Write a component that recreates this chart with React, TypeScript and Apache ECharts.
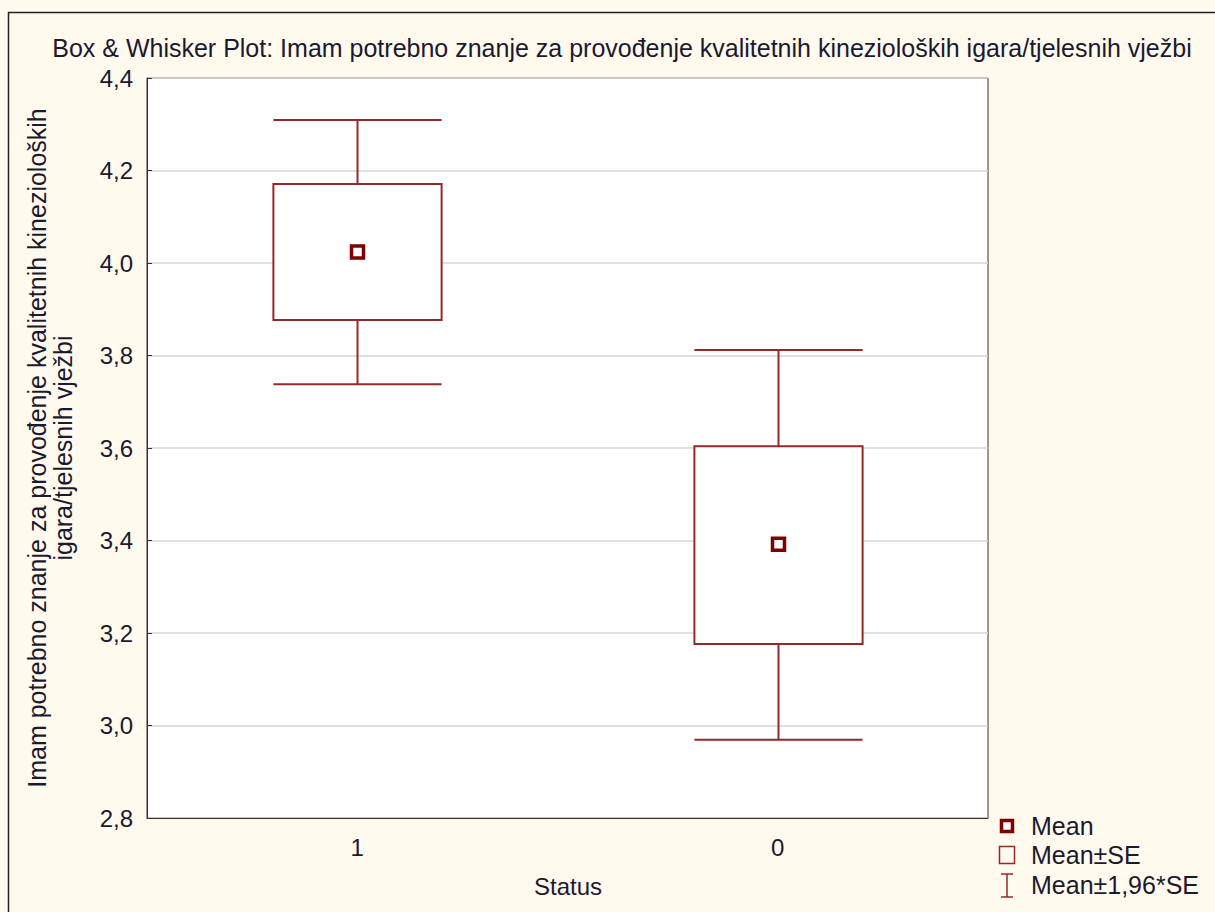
import React, { useEffect, useRef } from "react";
import * as echarts from "echarts";

const categories = ["1", "0"];
const means = [4.024, 3.392];
const seLow = [3.877, 3.176];
const seHigh = [4.171, 3.604];
const ciLow = [3.738, 2.969];
const ciHigh = [4.309, 3.812];

const titleText =
  "Box & Whisker Plot: Imam potrebno znanje za provođenje kvalitetnih kinezioloških igara/tjelesnih vježbi";
const yLabel =
  "Imam potrebno znanje za provođenje kvalitetnih kinezioloških\nigara/tjelesnih vježbi";
const xLabel = "Status";
const legendItems = ["Mean", "Mean±SE", "Mean±1,96*SE"];

const BOX = "#932a2a";
const MEAN = "#7f0000";
const FONT = "'Liberation Sans', Arial, sans-serif";
const TXT = "#1a1a2e";
const FS = 24;

export default function App() {
  const ref = useRef<HTMLDivElement>(null);
  useEffect(() => {
    const chart = echarts.init(ref.current!, null, { renderer: "svg" });
    const data = categories.map((c, i) => [i, means[i], seLow[i], seHigh[i], ciLow[i], ciHigh[i]]);
    const legendY = [826, 855, 885];
    chart.setOption({
      animation: false,
      backgroundColor: "#fff9ee",
      textStyle: { fontFamily: FONT },
      title: {
        text: titleText,
        left: 617,
        top: 30,
        textAlign: "center",
        textStyle: { fontFamily: FONT, fontSize: 25, fontWeight: "normal", color: TXT },
      },
      grid: {
        left: 147,
        top: 78,
        right: 227,
        bottom: 94,
        show: true,
        backgroundColor: "#ffffff",
        borderColor: "#333333",
        borderWidth: 1,
      },
      xAxis: {
        type: "category",
        data: categories,
        boundaryGap: true,
        axisLine: { lineStyle: { color: "#333333" } },
        axisTick: { inside: true, alignWithLabel: true, length: 5, lineStyle: { color: "#333333" } },
        axisLabel: { fontFamily: FONT, fontSize: FS, color: TXT, margin: 17 },
        splitLine: { show: false },
      },
      yAxis: {
        type: "value",
        min: 2.8,
        max: 4.4,
        interval: 0.2,
        axisLine: { show: true, lineStyle: { color: "#333333" } },
        axisTick: { show: true, inside: true, length: 5, lineStyle: { color: "#333333" } },
        axisLabel: {
          fontFamily: FONT,
          fontSize: FS,
          color: TXT,
          margin: 14,
          formatter: (v: number) => v.toFixed(1).replace(".", ","),
        },
        splitLine: { show: true, lineStyle: { color: "#d6d6d6", width: 1.5 } },
      },
      series: [
        {
          type: "custom",
          data,
          renderItem: (params: any, api: any) => {
            const x = api.value(0);
            const m = api.coord([x, api.value(1)]);
            const lo = api.coord([x, api.value(2)]);
            const hi = api.coord([x, api.value(3)]);
            const cl = api.coord([x, api.value(4)]);
            const ch = api.coord([x, api.value(5)]);
            const bw = api.size([1, 0])[0];
            const boxW = bw * 0.4;
            const capW = bw * 0.2;
            const cx = Math.round(m[0]) + 0.5;
            const ls = { stroke: BOX, lineWidth: 2 };
            return {
              type: "group",
              children: [
                { type: "line", shape: { x1: cx, y1: ch[1], x2: cx, y2: hi[1] }, style: ls },
                { type: "line", shape: { x1: cx, y1: lo[1], x2: cx, y2: cl[1] }, style: ls },
                { type: "line", shape: { x1: cx - capW, y1: ch[1], x2: cx + capW, y2: ch[1] }, style: ls },
                { type: "line", shape: { x1: cx - capW, y1: cl[1], x2: cx + capW, y2: cl[1] }, style: ls },
                {
                  type: "rect",
                  shape: { x: cx - boxW / 2, y: hi[1], width: boxW, height: lo[1] - hi[1] },
                  style: { fill: "#ffffff", stroke: BOX, lineWidth: 2 },
                },
                {
                  type: "rect",
                  shape: { x: cx - 6, y: m[1] - 6, width: 12, height: 12 },
                  style: { fill: "#ffffff", stroke: MEAN, lineWidth: 3.5 },
                },
              ],
            };
          },
        },
      ],
      graphic: [
        {
          type: "rect",
          silent: true,
          shape: { x: 8.5, y: 12.5, width: 1400, height: 1200 },
          style: { fill: "none", stroke: "#222222", lineWidth: 1.5 },
        },
        {
          type: "text",
          x: 50,
          y: 448,
          rotation: Math.PI / 2,
          style: {
            text: yLabel,
            align: "center",
            verticalAlign: "middle",
            fontFamily: FONT,
            fontSize: 25,
            lineHeight: 26,
            fill: TXT,
          },
        },
        {
          type: "text",
          x: 568,
          y: 886,
          style: { text: xLabel, align: "center", verticalAlign: "middle", fontFamily: FONT, fontSize: FS, fill: TXT },
        },
        {
          type: "rect",
          shape: { x: 1001.5, y: legendY[0] - 5.5, width: 11, height: 11 },
          style: { fill: "#ffffff", stroke: MEAN, lineWidth: 3.5 },
        },
        {
          type: "rect",
          shape: { x: 999.5, y: legendY[1] - 8.5, width: 15, height: 17 },
          style: { fill: "none", stroke: BOX, lineWidth: 1.5 },
        },
        { type: "line", shape: { x1: 1007, y1: legendY[2] - 11, x2: 1007, y2: legendY[2] + 12 }, style: { stroke: BOX, lineWidth: 1.5 } },
        { type: "line", shape: { x1: 1001, y1: legendY[2] - 11, x2: 1013, y2: legendY[2] - 11 }, style: { stroke: BOX, lineWidth: 1.5 } },
        { type: "line", shape: { x1: 1001, y1: legendY[2] + 12, x2: 1013, y2: legendY[2] + 12 }, style: { stroke: BOX, lineWidth: 1.5 } },
        ...legendItems.map((t, i) => ({
          type: "text",
          x: 1031,
          y: legendY[i],
          style: { text: t, align: "left", verticalAlign: "middle", fontFamily: FONT, fontSize: 25, fill: TXT },
        })),
      ],
    });
    return () => chart.dispose();
  }, []);
  return (
    <div
      ref={ref}
      style={{ position: "absolute", left: 0, top: 0, width: 1215, height: 912 }}
    />
  );
}
